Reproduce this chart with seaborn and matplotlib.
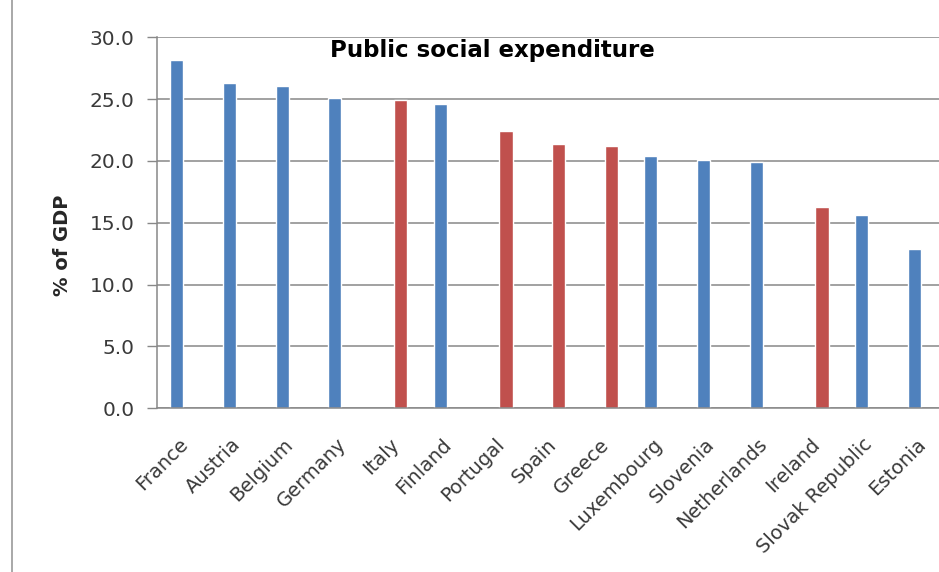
import numpy as np
import pandas as pd
import matplotlib
matplotlib.use("Agg")
import matplotlib.pyplot as plt
from matplotlib.ticker import FormatStrFormatter, FixedLocator
from matplotlib.transforms import ScaledTranslation
import seaborn as sns

countries = ["France", "Austria", "Belgium", "Germany", "Italy", "Finland",
             "Portugal", "Spain", "Greece", "Luxembourg", "Slovenia",
             "Netherlands", "Ireland", "Slovak Republic", "Estonia"]
values = [28.2, 26.3, 26.1, 25.1, 24.9, 24.6, 22.4, 21.4, 21.2, 20.4,
          20.1, 19.9, 16.3, 15.6, 12.9]
groups = ["other", "other", "other", "other", "crisis", "other",
          "crisis", "crisis", "crisis", "other", "other", "other",
          "crisis", "other", "other"]
group_order = ["other", "crisis"]
colors = {"other": "#4F81BD", "crisis": "#C0504D"}

sns.set_theme(style="white")
plt.rcParams["font.family"] = ["DejaVu Sans"]

df = pd.DataFrame({"country": countries, "value": values, "group": groups})

fig = plt.figure(figsize=(9.39, 5.72), dpi=100)
ax = fig.add_axes([157 / 939, 163.7 / 572, 790 / 939, 371 / 572])

sns.barplot(data=df, x="country", y="value", hue="group",
            hue_order=group_order, palette=colors, dodge=True, width=0.5,
            saturation=1, legend=False, ax=ax)

ax.set_ylim(0, 30)
ax.set_xlim(-0.5, len(countries) - 0.5)
ax.set_yticks(np.arange(0, 30.1, 5))
ax.yaxis.set_major_formatter(FormatStrFormatter("%.1f"))
ax.grid(axis="y", color="#888888", linewidth=1.1)
ax.set_axisbelow(True)

ax.xaxis.set_minor_locator(FixedLocator(np.arange(-0.5, len(countries), 1)))
ax.tick_params(axis="x", which="major", length=0, pad=19, labelsize=14,
               labelcolor="#3a3a3a")
ax.tick_params(axis="x", which="minor", length=5, width=1, color="#888888",
               direction="out")
ax.tick_params(axis="y", length=7, width=1, color="#888888", labelsize=14.5,
               labelcolor="#3a3a3a", pad=9, left=True)
shift = ScaledTranslation(-5 / 100, 0, fig.dpi_scale_trans)
for lab in ax.get_xticklabels():
    lab.set_rotation(45)
    lab.set_ha("right")
    lab.set_rotation_mode("anchor")
    lab.set_transform(lab.get_transform() + shift)

for side in ["top", "right"]:
    ax.spines[side].set_visible(False)
for side in ["left", "bottom"]:
    ax.spines[side].set_color("#888888")
    ax.spines[side].set_linewidth(1.1)

ax.set_xlabel("")
ax.set_ylabel("% of GDP", fontsize=14, fontweight="bold")
ax.yaxis.set_label_coords(-0.107, 0.44)
ax.text(0.424, 0.946, "Public social expenditure", transform=ax.transAxes,
        ha="center", va="baseline", fontsize=16.5, fontweight="bold",
        color="black")

fig.add_artist(plt.Line2D([12 / 939, 12 / 939], [0, 1],
                          transform=fig.transFigure, color="#9a9a9a",
                          linewidth=1.2))

fig.savefig("out.png", dpi=100)
